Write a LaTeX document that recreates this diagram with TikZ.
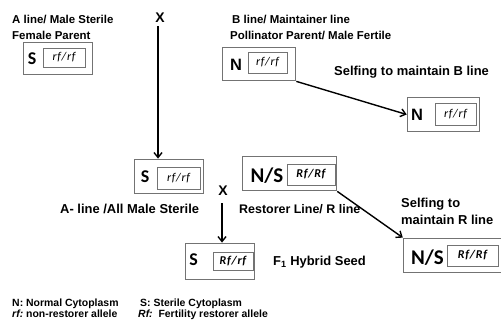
\documentclass[tikz,border=0pt]{standalone}
\usepackage{fontspec}
\setmainfont{Liberation Sans}
\newfontfamily\calib{Carlito}
\newfontfamily\calibsp[LetterSpace=6]{Carlito}
\usetikzlibrary{arrows.meta}
\begin{document}
\begin{tikzpicture}[x=1bp,y=-1bp,
  lbl/.style={font=\fontsize{11.5}{13}\selectfont\bfseries, anchor=base west, inner sep=0},
  big/.style={font=\fontsize{13}{15}\selectfont\bfseries, anchor=base west, inner sep=0},
  leg/.style={font=\fontsize{10.5}{12}\selectfont\bfseries, anchor=base west, inner sep=0},
  cross/.style={font=\fontsize{14}{16}\selectfont\bfseries, inner sep=0},
  outer/.style={draw=black!55, line width=0.9pt, minimum width=#1, inner sep=0},
  inner/.style={draw=black!55, line width=0.8pt, inner sep=0},
  letS/.style={font=\calib\fontsize{18}{19}\selectfont\bfseries, inner sep=0},
  letN/.style={font=\fontsize{16.5}{18}\selectfont\bfseries, inner sep=0},
  letNS/.style={font=\calib\fontsize{21}{22}\selectfont\bfseries, inner sep=0},
  geno/.style={font=\calibsp\fontsize{12}{13}\selectfont\itshape},
  genoB/.style={font=\calibsp\fontsize{12}{13}\selectfont\bfseries\itshape},
  arr/.style={line width=1.4pt, -{Straight Barb[length=5pt,width=8pt,line width=1.4pt]}},
]
\useasboundingbox (0,0) rectangle (501,320);

% labels
\node[lbl] (t1) at (12,23) {A line/ Male Sterile};
\node[lbl] (t2) at (12,39) {Female Parent};
\node[lbl] (t3) at (232,23) {B line/ Maintainer line};
\node[lbl] (t4) at (230,39) {Pollinator Parent/ Male Fertile};
\node[big] (t5) at (334,75) {Selfing to maintain B line};
\node[big] (t6) at (60,213) {A- line /All Male Sterile};
\node[big, font=\fontsize{12.5}{15}\selectfont\bfseries] (t7) at (239,213) {Restorer Line/ R line};
\node[big] (t8) at (401,207) {Selfing to};
\node[big] (t9) at (401,224) {maintain R line};
\node[big] (t10) at (273,265) {F\textsubscript{1} Hybrid Seed};
\node[leg] (l1) at (12,306) {N: Normal Cytoplasm};
\node[leg] (l2) at (12,317) {\itshape rf:\upshape\ non-restorer allele};
\node[leg] (l3) at (140,306) {S: Sterile Cytoplasm};
\node[leg] (l4) at (138,317) {\itshape Rf:\upshape\ \ Fertility restorer allele};

\node[cross] (x1) at (160,17.5) {X};
\node[cross] (x2) at (223,191) {X};

% boxes
\node[outer=70, minimum height=33] (bA) at (58,58.5) {};
\node[letS] (sA) at (32,59) {S};
\node[inner, minimum width=42, minimum height=19] (iA) at (64,57.5) {};
\node[geno] at (iA) {rf/rf};

\node[outer=74, minimum height=34] (bN) at (259,64) {};
\node[letN] (sN) at (236,65) {N};
\node[inner, minimum width=39, minimum height=21] (iN) at (267.5,62.5) {};
\node[geno] at (iN) {rf/rf};

\node[outer=73, minimum height=35] (bN2) at (443.5,114.5) {};
\node[letN] (sN2) at (417,114.5) {N};
\node[inner, minimum width=41, minimum height=22] (iN2) at (455.5,114) {};
\node[geno] at (iN2) {rf/rf};

\node[outer=70, minimum height=35] (bS) at (169,176.5) {};
\node[letS] (sS) at (145,177) {S};
\node[inner, minimum width=43, minimum height=22] (iS) at (178.5,178) {};
\node[geno] at (iS) {rf/rf};

\node[outer=95, minimum height=35] (bR) at (289.5,173.5) {};
\node[letNS] (sR) at (267,175.5) {N/S};
\node[inner, minimum width=48, minimum height=21] (iR) at (311,174.5) {};
\node[genoB] at (iR) {Rf/Rf};

\node[outer=107, minimum height=35] (bR2) at (456.5,255.5) {};
\node[letNS] (sR2) at (427.5,257.5) {N/S};
\node[inner, minimum width=51, minimum height=21] (iR2) at (472.5,255.5) {};
\node[genoB] at (iR2) {Rf/Rf};

\node[outer=70, minimum height=37] (bF) at (220,261.5) {};
\node[letS] (sF) at (193.5,260) {S};
\node[inner, minimum width=40, minimum height=18] (iF) at (233,261) {};
\node[genoB] at (iF) {Rf/rf};

% arrows
\coordinate (c1) at (158,26);
\draw[arr] (c1) -- (c1 |- bS.north);
\coordinate (c2) at (222,203);
\draw[arr] (c2) -- (c2 |- bF.north);
\draw[arr] (bN.south east) -- (bN2.west);
\draw[arr] (bR.south east) -- (bR2.north west);
\end{tikzpicture}
\end{document}
